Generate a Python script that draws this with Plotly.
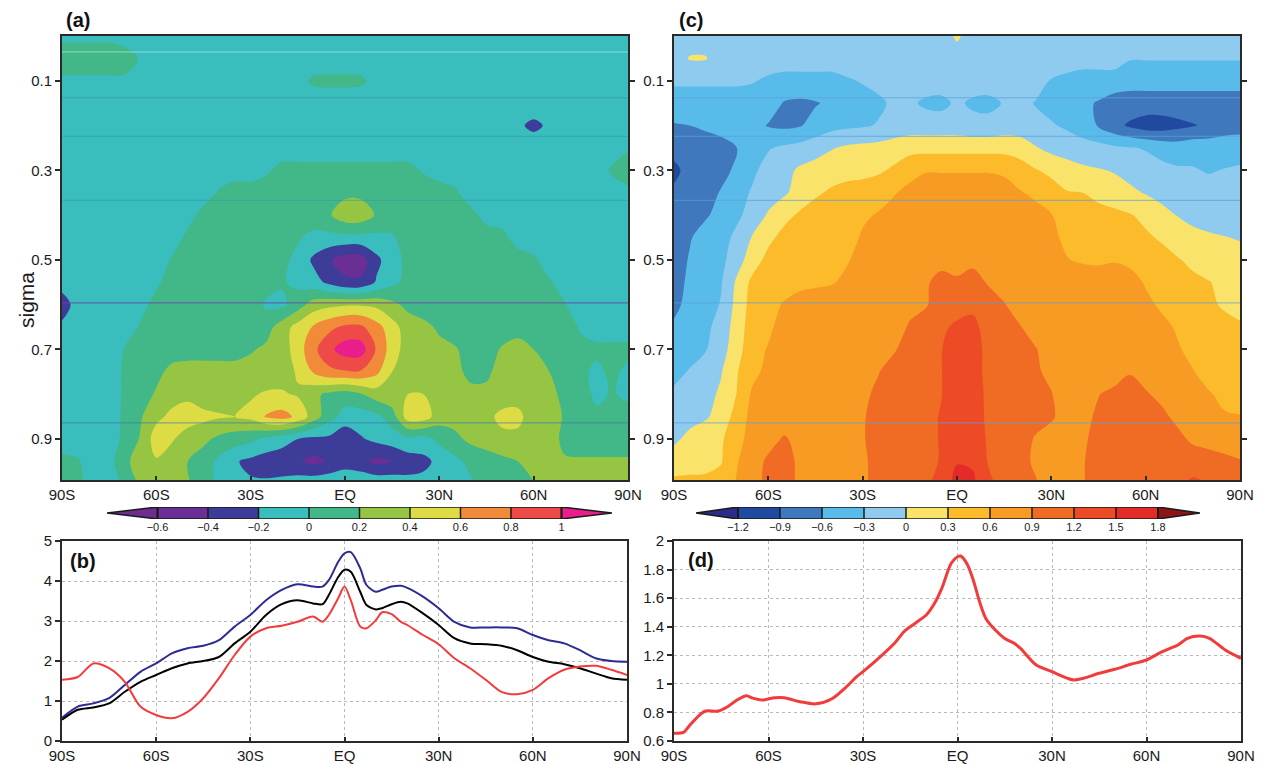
import plotly.graph_objects as go

W, H = 1262, 764

# ---------------- data ----------------
lat = [-90, -85, -80, -75, -70, -65, -60, -55, -50, -45, -40, -35, -30, -25, -20, -15, -10, -5, 0,
       5, 10, 15, 20, 25, 30, 35, 40, 45, 50, 55, 60, 65, 70, 75, 80, 85, 90]
sigma = [0.0, 0.05, 0.1, 0.15, 0.2, 0.25, 0.3, 0.35, 0.4, 0.45, 0.5, 0.55, 0.6, 0.65, 0.7,
         0.75, 0.8, 0.85, 0.9, 0.95, 0.995]

# panel (a) field, rows = sigma levels, cols = latitudes
a_field = [
    [-0.05]*4 + [-0.1]*33,
    [0.12, 0.12, 0.12, 0.12, 0.1, -0.02] + [-0.1]*31,
    [-0.04]*5 + [-0.1]*10 + [-0.06, 0.03, 0.04, 0.04, 0.03, -0.05] + [-0.1]*16,
    [-0.1]*37,
    [-0.1]*29 + [-0.17, -0.24, -0.17] + [-0.1]*5,
    [-0.1]*36 + [-0.02],
    [-0.1]*13 + [-0.03] + [0.06]*9 + [-0.02] + [-0.1]*11 + [0.03, 0.12],
    [-0.1]*10 + [0.02] + [0.1]*7 + [0.15, 0.15] + [0.1]*5 + [0.03] + [-0.1]*10 + [-0.05],
    [-0.1]*8 + [-0.08, 0.07] + [0.1]*7 + [0.18, 0.32, 0.32, 0.18] + [0.1]*5 + [0.06, -0.08] + [-0.1]*9,
    [-0.1]*8 + [0.05] + [0.1]*6 + [0.02, -0.05, -0.06, -0.06, -0.06, -0.05, -0.02, 0.08] + [0.1]*5 + [0.06] + [-0.1]*8,
    [-0.1]*7 + [0.02] + [0.1]*6 + [0.05, -0.05, -0.24, -0.38, -0.5, -0.5, -0.25, -0.08, 0.05] + [0.1]*7 + [0.03] + [-0.1]*6,
    [-0.1]*6 + [-0.04] + [0.1]*6 + [0.08, 0.02, -0.05, -0.12, -0.25, -0.36, -0.36, -0.18, -0.05, 0.06] + [0.1]*8 + [0.02] + [-0.1]*5,
    [-0.32] + [-0.1]*4 + [-0.06, 0.07] + [0.1]*5 + [0.1, -0.03, -0.04, 0.1, 0.3, 0.35, 0.38, 0.38, 0.35, 0.25, 0.15] + [0.1]*9 + [0.01] + [-0.1]*4,
    [-0.15] + [-0.1]*4 + [0.02] + [0.1]*7 + [0.12, 0.3, 0.48, 0.62, 0.75, 0.84, 0.84, 0.68, 0.48, 0.3, 0.25, 0.17] + [0.1]*7 + [0.08, -0.02] + [-0.1]*3,
    [-0.1]*4 + [0.01] + [0.12]*7 + [0.18, 0.24, 0.3, 0.5, 0.75, 0.95, 1.1, 1.1, 0.78, 0.5, 0.3, 0.28, 0.25, 0.22, 0.12, 0.12, 0.22, 0.3, 0.2, 0.12, 0.1] + [0.05]*4,
    [-0.1]*4 + [0.03, 0.08, 0.15, 0.25, 0.28, 0.28, 0.28, 0.28, 0.28, 0.3, 0.32, 0.42, 0.62, 0.75, 0.78, 0.78, 0.65, 0.4, 0.3, 0.3, 0.28, 0.25, 0.15, 0.16, 0.28, 0.3, 0.28, 0.2, 0.1, 0.05, -0.05, 0.05, -0.05],
    [-0.1]*4 + [0.03, 0.12, 0.22, 0.32, 0.35, 0.3, 0.3, 0.32, 0.38, 0.42, 0.42, 0.38, 0.25, 0.15, 0.1, 0.18, 0.3, 0.35, 0.4, 0.4, 0.35, 0.3, 0.25, 0.25, 0.3, 0.32, 0.3, 0.25, 0.15, 0.1, -0.05, 0.02, -0.05],
    [-0.1]*4 + [0.04, 0.18, 0.35, 0.45, 0.5, 0.45, 0.42, 0.4, 0.45, 0.62, 0.68, 0.55, 0.3, 0.08, -0.08, -0.1, -0.05, 0.1, 0.5, 0.5, 0.3, 0.28, 0.3, 0.35, 0.45, 0.45, 0.3, 0.28, 0.18, 0.12, 0.05, 0.1, 0.1],
    [-0.1]*4 + [0.05, 0.22, 0.5, 0.42, 0.3, 0.25, 0.15, 0.1, 0.05, -0.05, -0.12, -0.2, -0.25, -0.25, -0.35, -0.22, -0.15, -0.1, -0.05, -0.08, 0.05, 0.15, 0.25, 0.3, 0.35, 0.35, 0.3, 0.28, 0.15, 0.12, 0.12, 0.12, 0.12],
    [0.05, 0.02, -0.1, -0.08, 0.15, 0.3, 0.38, 0.3, 0.2, 0.1, -0.05, -0.18, -0.25, -0.3, -0.32, -0.38, -0.45, -0.38, -0.3, -0.35, -0.45, -0.4, -0.3, -0.25, -0.15, -0.05, 0.05, 0.1, 0.15, 0.2, 0.25, 0.22, 0.22, 0.22, 0.22, 0.22, 0.22],
    [0.05, 0.03, -0.05, -0.1, 0.05, 0.25, 0.3, 0.28, 0.22, 0.08, -0.05, -0.12, -0.18, -0.18, -0.16, -0.12, -0.1, -0.08, -0.05, -0.05, -0.08, -0.1, -0.15, -0.15, -0.12, -0.06, -0.02, 0.05, 0.1, 0.15, 0.2, 0.25, 0.25, 0.25, 0.25, 0.25, 0.25],
]

# panel (c) field
c_field = [
    [-0.15]*18 + [0.05] + [-0.15]*18,
    [-0.15, 0.02, 0.02] + [-0.15]*26 + [-0.28]*8,
    [-0.25]*5 + [-0.28, -0.35, -0.4, -0.4, -0.4, -0.4, -0.33, -0.28, -0.22] + [-0.15]*10 + [-0.32, -0.38, -0.45, -0.45, -0.45] + [-0.5]*8,
    [-0.45]*7 + [-0.62, -0.65, -0.62, -0.55, -0.45, -0.4, -0.35, -0.25, -0.25, -0.35, -0.38, -0.25, -0.35, -0.38, -0.28, -0.2, -0.32, -0.4, -0.45, -0.55, -0.62] + [-0.72]*9,
    [-0.62, -0.6, -0.55, -0.5, -0.5, -0.5, -0.62, -0.66, -0.62, -0.5, -0.4, -0.36, -0.33, -0.28, -0.2, -0.15, -0.15, -0.15, -0.15, -0.2, -0.2, -0.15, -0.15, -0.2, -0.27, -0.35, -0.5, -0.62, -0.8, -0.95, -1.05, -1.05, -0.98, -0.92, -0.85, -0.75, -0.7],
    [-0.8, -0.78, -0.75, -0.7, -0.6, -0.48, -0.32, -0.25, -0.2, -0.12, -0.02, 0.05, 0.08, 0.1, 0.15, 0.2, 0.2, 0.2, 0.2, 0.2, 0.2, 0.2, 0.15, 0.02, -0.08, -0.12, -0.15, -0.2, -0.25, -0.28, -0.32, -0.4, -0.45, -0.4, -0.42, -0.42, -0.45],
    [-0.97, -0.8, -0.72, -0.68, -0.55, -0.35, -0.2, -0.1, 0.05, 0.12, 0.15, 0.2, 0.2, 0.25, 0.35, 0.5, 0.58, 0.58, 0.58, 0.58, 0.58, 0.55, 0.45, 0.32, 0.22, 0.12, 0.05, 0.02, -0.02, -0.1, -0.18, -0.22, -0.26, -0.28, -0.32, -0.29, -0.25],
    [-0.85, -0.78, -0.7, -0.58, -0.4, -0.27, -0.15, -0.04, 0.1, 0.25, 0.35, 0.4, 0.45, 0.5, 0.58, 0.68, 0.75, 0.75, 0.75, 0.75, 0.75, 0.72, 0.62, 0.55, 0.45, 0.32, 0.3, 0.2, 0.12, 0.06, -0.02, -0.1, -0.15, -0.18, -0.2, -0.2, -0.22],
    [-0.8, -0.75, -0.63, -0.52, -0.34, -0.22, 0.04, 0.2, 0.35, 0.45, 0.5, 0.52, 0.56, 0.62, 0.7, 0.8, 0.8, 0.8, 0.8, 0.8, 0.8, 0.8, 0.72, 0.68, 0.61, 0.5, 0.45, 0.42, 0.38, 0.32, 0.22, 0.1, -0.01, -0.08, -0.12, -0.15, -0.18],
    [-0.75, -0.62, -0.5, -0.38, -0.25, 0.03, 0.22, 0.4, 0.5, 0.5, 0.5, 0.5, 0.63, 0.75, 0.8, 0.8, 0.8, 0.8, 0.8, 0.8, 0.8, 0.8, 0.8, 0.75, 0.65, 0.55, 0.5, 0.48, 0.45, 0.42, 0.35, 0.26, 0.18, 0.08, 0.04, 0.01, -0.02],
    [-0.72, -0.58, -0.48, -0.38, -0.12, 0.15, 0.4, 0.5, 0.5, 0.5, 0.52, 0.58, 0.68, 0.75, 0.8, 0.8, 0.8, 0.85, 0.85, 0.85, 0.85, 0.85, 0.8, 0.78, 0.72, 0.61, 0.57, 0.55, 0.58, 0.55, 0.5, 0.42, 0.32, 0.25, 0.18, 0.12, 0.1],
    [-0.7, -0.55, -0.45, -0.32, 0.05, 0.38, 0.5, 0.5, 0.5, 0.55, 0.58, 0.65, 0.75, 0.75, 0.75, 0.82, 0.88, 0.95, 0.92, 0.98, 0.88, 0.82, 0.8, 0.75, 0.75, 0.75, 0.75, 0.75, 0.75, 0.68, 0.58, 0.52, 0.45, 0.35, 0.31, 0.25, 0.22],
    [-0.68, -0.5, -0.42, -0.28, 0.1, 0.42, 0.52, 0.62, 0.75, 0.75, 0.75, 0.75, 0.75, 0.75, 0.8, 0.85, 0.88, 1.0, 1.08, 1.12, 1.0, 0.91, 0.82, 0.75, 0.75, 0.75, 0.75, 0.75, 0.75, 0.72, 0.65, 0.57, 0.5, 0.42, 0.33, 0.28, 0.25],
    [-0.55, -0.45, -0.36, -0.2, 0.15, 0.45, 0.55, 0.7, 0.75, 0.75, 0.75, 0.75, 0.75, 0.78, 0.82, 0.92, 1.0, 1.15, 1.25, 1.3, 1.05, 0.98, 0.91, 0.82, 0.75, 0.75, 0.75, 0.75, 0.75, 0.75, 0.72, 0.65, 0.58, 0.5, 0.42, 0.35, 0.32],
    [-0.45, -0.4, -0.32, -0.12, 0.18, 0.5, 0.62, 0.75, 0.75, 0.75, 0.75, 0.75, 0.75, 0.82, 0.88, 1.0, 1.08, 1.19, 1.35, 1.35, 1.1, 1.0, 0.95, 0.91, 0.82, 0.75, 0.75, 0.75, 0.75, 0.75, 0.75, 0.7, 0.62, 0.55, 0.45, 0.38, 0.35],
    [-0.38, -0.28, -0.15, -0.02, 0.28, 0.52, 0.68, 0.75, 0.75, 0.75, 0.75, 0.75, 0.75, 0.89, 1.0, 1.05, 1.1, 1.19, 1.38, 1.35, 1.1, 1.02, 0.98, 0.93, 0.85, 0.75, 0.75, 0.75, 0.75, 0.88, 0.82, 0.78, 0.7, 0.61, 0.52, 0.45, 0.42],
    [-0.25, -0.15, -0.1, 0.05, 0.31, 0.65, 0.75, 0.75, 0.75, 0.75, 0.75, 0.75, 0.85, 0.95, 1.05, 1.08, 1.1, 1.19, 1.38, 1.38, 1.12, 1.05, 1.0, 0.98, 0.91, 0.78, 0.8, 0.89, 0.98, 1.02, 0.92, 0.85, 0.78, 0.72, 0.62, 0.55, 0.5],
    [-0.15, -0.1, -0.04, 0.12, 0.42, 0.7, 0.75, 0.75, 0.75, 0.75, 0.75, 0.75, 0.88, 0.98, 1.08, 1.1, 1.12, 1.22, 1.4, 1.4, 1.12, 1.05, 1.0, 0.98, 0.93, 0.8, 0.82, 0.95, 1.02, 1.05, 1.0, 0.95, 0.85, 0.8, 0.72, 0.62, 0.61],
    [-0.06, 0.08, 0.2, 0.26, 0.5, 0.72, 0.8, 0.93, 0.82, 0.75, 0.75, 0.75, 0.88, 1.0, 1.08, 1.1, 1.12, 1.22, 1.42, 1.42, 1.15, 1.05, 1.0, 0.88, 0.8, 0.75, 0.85, 1.0, 1.05, 1.05, 1.05, 1.0, 0.96, 0.86, 0.8, 0.75, 0.72],
    [0.15, 0.2, 0.22, 0.28, 0.58, 0.78, 0.95, 1.0, 0.85, 0.75, 0.75, 0.75, 0.85, 1.0, 1.08, 1.1, 1.12, 1.22, 1.48, 1.46, 1.18, 1.05, 1.0, 0.85, 0.75, 0.72, 0.88, 1.02, 1.08, 1.08, 1.08, 1.05, 1.02, 1.02, 1.02, 0.98, 0.92],
    [0.35, 0.35, 0.35, 0.4, 0.62, 0.78, 0.98, 1.0, 0.85, 0.75, 0.75, 0.75, 0.85, 1.0, 1.08, 1.1, 1.15, 1.3, 1.6, 1.55, 1.25, 1.1, 1.0, 0.92, 0.78, 0.75, 0.88, 1.02, 1.1, 1.1, 1.1, 1.1, 1.12, 1.25, 1.18, 1.1, 1.05],
]

for name, fld in (("a", a_field), ("c", c_field)):
    assert len(fld) == len(sigma), (name, len(fld))
    for i, row in enumerate(fld):
        assert len(row) == len(lat), (name, i, len(row))

# panel (b) lines
b_lat = [-90, -85, -80, -75, -70, -65, -60, -55, -50, -45, -40, -35, -30, -25, -20, -15, -10, -7, -5, -2,
         0, 2, 5, 7, 10, 12, 15, 18, 20, 25, 30, 35, 40, 45, 50, 55, 60, 65, 70, 75, 80, 85, 90]
b_blue = [0.58, 0.86, 0.94, 1.07, 1.4, 1.73, 1.94, 2.19, 2.32, 2.38, 2.52, 2.86, 3.15, 3.52, 3.78,
          3.92, 3.86, 3.86, 4.02, 4.48, 4.69, 4.72, 4.32, 3.9, 3.73, 3.78, 3.86, 3.88, 3.83, 3.61,
          3.32, 2.98, 2.84, 2.84, 2.84, 2.82, 2.65, 2.52, 2.44, 2.27, 2.07, 2.0, 1.98]
b_black = [0.53, 0.78, 0.84, 0.94, 1.23, 1.48, 1.65, 1.82, 1.94, 2.0, 2.1, 2.44, 2.73, 3.15, 3.42,
           3.52, 3.44, 3.42, 3.65, 4.1, 4.28, 4.23, 3.73, 3.4, 3.29, 3.32, 3.42, 3.48, 3.44, 3.19,
           2.9, 2.57, 2.44, 2.42, 2.38, 2.27, 2.1, 1.98, 1.92, 1.82, 1.69, 1.57, 1.53]
b_red = [1.53, 1.6, 1.94, 1.82, 1.48, 0.86, 0.65, 0.57, 0.73, 1.07, 1.57, 2.15, 2.61, 2.82, 2.88,
         2.98, 3.11, 2.98, 3.15, 3.57, 3.86, 3.52, 2.86, 2.82, 3.02, 3.22, 3.17, 2.98, 2.9, 2.65,
         2.42, 2.07, 1.82, 1.53, 1.23, 1.17, 1.28, 1.57, 1.78, 1.86, 1.88, 1.78, 1.65]

# panel (d) line
d_lat = [-90, -87, -85, -82, -80, -76, -73, -70, -67, -65, -62, -58, -55, -50, -45, -40, -35, -32, -30,
         -25, -20, -17, -15, -12, -10, -7, -5, -2, 0, 1, 3, 5, 7, 9, 12, 15, 18, 20, 25, 30, 35, 37,
         40, 45, 50, 55, 60, 65, 68, 70, 73, 77, 80, 85, 90]
d_red = [0.654, 0.66, 0.71, 0.78, 0.81, 0.81, 0.84, 0.887, 0.917, 0.9, 0.887, 0.903, 0.903, 0.875,
         0.86, 0.894, 0.985, 1.05, 1.085, 1.18, 1.284, 1.365, 1.4, 1.447, 1.48, 1.575, 1.668, 1.844,
         1.89, 1.895, 1.84, 1.727, 1.575, 1.458, 1.377, 1.318, 1.284, 1.248, 1.132, 1.085, 1.038,
         1.027, 1.039, 1.074, 1.102, 1.137, 1.167, 1.225, 1.253, 1.272, 1.319, 1.335, 1.319, 1.237,
         1.179]

lat_ticks = [-90, -60, -30, 0, 30, 60, 90]
lat_labels = ["90S", "60S", "30S", "EQ", "30N", "60N", "90N"]
sigma_ticks = [0.1, 0.3, 0.5, 0.7, 0.9]

levels_a = [-0.6, -0.4, -0.2, 0, 0.2, 0.4, 0.6, 0.8, 1.0]
labels_a = ["\u22120.6", "\u22120.4", "\u22120.2", "0", "0.2", "0.4", "0.6", "0.8", "1"]
levels_c = [-1.2, -0.9, -0.6, -0.3, 0, 0.3, 0.6, 0.9, 1.2, 1.5, 1.8]
labels_c = ["\u22121.2", "\u22120.9", "\u22120.6", "\u22120.3", "0", "0.3", "0.6", "0.9", "1.2", "1.5", "1.8"]

# horizontal level-boundary streaks visible in the contour panels
streaks_a = [0.0356, 0.138, 0.224, 0.367, 0.596, 0.864]
streaks_c = [0.138, 0.224, 0.367, 0.596, 0.864]

# ---------------- styles ----------------
colors_a = ["#6e2c90", "#6a2f95", "#3d3c98", "#3abdbd", "#42b888", "#95c543",
            "#dedc44", "#f28b39", "#ee4a48", "#e91e8c"]
colors_c = ["#2b2b8e", "#1f4a9f", "#3f78bc", "#59bbea", "#8fcbef", "#fae36b",
            "#fbbb2b", "#f89b24", "#f06c25", "#ec4b25", "#e32b27", "#8c1515"]
streak_colors_a = ["rgba(235,250,250,0.5)", "rgba(50,140,170,0.5)", "rgba(50,140,170,0.45)",
                   "rgba(50,140,170,0.45)", "rgba(110,70,170,0.9)", "rgba(60,120,175,0.7)"]
streak_color_c = "rgba(90,160,215,0.75)"

FONT = "Liberation Sans"
FRAME = "#2a2a2a"


def px(x):
    return x / W


def py(y):
    return 1 - y / H


fig = go.Figure()

# contour panels
fig.add_trace(go.Contour(
    x=lat, y=sigma, z=a_field, xaxis="x", yaxis="y", showscale=False,
    autocontour=False,
    contours=dict(start=levels_a[0], end=levels_a[-1], size=0.2, coloring="fill", showlines=False),
    colorscale=[[k / (len(colors_a) - 1), c] for k, c in enumerate(colors_a)],
    line=dict(width=0, smoothing=1.0), hoverinfo="skip"))
fig.add_trace(go.Contour(
    x=lat, y=sigma, z=c_field, xaxis="x2", yaxis="y2", showscale=False,
    autocontour=False,
    contours=dict(start=levels_c[0], end=levels_c[-1], size=0.3, coloring="fill", showlines=False),
    colorscale=[[k / (len(colors_c) - 1), c] for k, c in enumerate(colors_c)],
    line=dict(width=0, smoothing=1.0), hoverinfo="skip"))

# line panels
fig.add_trace(go.Scatter(x=b_lat, y=b_blue, mode="lines", xaxis="x3", yaxis="y3",
                         line=dict(color="#2c2c92", width=2, shape="spline", smoothing=0.8)))
fig.add_trace(go.Scatter(x=b_lat, y=b_black, mode="lines", xaxis="x3", yaxis="y3",
                         line=dict(color="#000000", width=2, shape="spline", smoothing=0.8)))
fig.add_trace(go.Scatter(x=b_lat, y=b_red, mode="lines", xaxis="x3", yaxis="y3",
                         line=dict(color="#f23c3c", width=2, shape="spline", smoothing=0.8)))
fig.add_trace(go.Scatter(x=d_lat, y=d_red, mode="lines", xaxis="x4", yaxis="y4",
                         line=dict(color="#f23c3c", width=3, shape="spline", smoothing=0.8)))

# colorbars as heatmaps on their own axes
fig.add_trace(go.Heatmap(x=levels_a, y=[0, 1], z=[list(range(len(levels_a) - 1))],
                         xaxis="x5", yaxis="y5", showscale=False, zmin=0, zmax=len(levels_a) - 2,
                         colorscale=[[k / (len(levels_a) - 2), c] for k, c in enumerate(colors_a[1:-1])],
                         hoverinfo="skip"))
fig.add_trace(go.Heatmap(x=levels_c, y=[0, 1], z=[list(range(len(levels_c) - 1))],
                         xaxis="x6", yaxis="y6", showscale=False, zmin=0, zmax=len(levels_c) - 2,
                         colorscale=[[k / (len(levels_c) - 2), c] for k, c in enumerate(colors_c[1:-1])],
                         hoverinfo="skip"))

tickfont = dict(family=FONT, size=15, color="#1a1a1a")

lat_axis = dict(range=[-90, 90], tickvals=lat_ticks, ticktext=lat_labels, ticks="inside",
                ticklen=4, tickwidth=1.5, tickcolor=FRAME, showgrid=True, gridcolor="#b9b9b9",
                griddash="dot", gridwidth=1, showline=True, linewidth=2, linecolor=FRAME,
                mirror=True, zeroline=False, tickfont=tickfont, layer="above traces",
                automargin=False)
sig_axis = dict(range=[0.9915, 0.0], tickvals=sigma_ticks, ticks="outside", ticklen=5, tickwidth=1.5,
                tickcolor=FRAME, showgrid=True, gridcolor="#b9b9b9", griddash="dot", gridwidth=1,
                showline=True, linewidth=2, linecolor=FRAME, mirror="ticks", zeroline=False,
                tickfont=tickfont, layer="above traces", automargin=False)

top_y = [py(480), py(36)]
bot_y = [py(741), py(541)]

fig.update_layout(
    width=W, height=H, margin=dict(l=0, r=0, t=0, b=0, autoexpand=False),
    paper_bgcolor="white", plot_bgcolor="white", showlegend=False,
    xaxis=dict(lat_axis, domain=[px(62), px(628)], anchor="y"),
    yaxis=dict(sig_axis, domain=top_y, anchor="x"),
    xaxis2=dict(lat_axis, domain=[px(674), px(1240)], anchor="y2"),
    yaxis2=dict(sig_axis, domain=top_y, anchor="x2"),
    xaxis3=dict(lat_axis, domain=[px(62), px(627)], anchor="y3"),
    yaxis3=dict(range=[0, 5], tickvals=[0, 1, 2, 3, 4, 5], ticks="outside", ticklen=5, tickwidth=1.5,
                tickcolor=FRAME, showgrid=True, gridcolor="#b9b9b9", griddash="dot", gridwidth=1,
                showline=True, linewidth=2, linecolor=FRAME, mirror=True, zeroline=False,
                tickfont=tickfont, domain=bot_y, anchor="x3", automargin=False),
    xaxis4=dict(lat_axis, domain=[px(674), px(1241)], anchor="y4"),
    yaxis4=dict(range=[0.6, 2.0], tickvals=[0.6, 0.8, 1.0, 1.2, 1.4, 1.6, 1.8, 2.0], ticks="outside",
                ticklen=5, tickwidth=1.5, tickcolor=FRAME, showgrid=True, gridcolor="#b9b9b9",
                griddash="dot", gridwidth=1, showline=True, linewidth=2, linecolor=FRAME,
                mirror=True, zeroline=False, tickfont=tickfont, domain=bot_y, anchor="x4",
                automargin=False),
    xaxis5=dict(domain=[px(107), px(612)], anchor="y5", range=[levels_a[0] - 0.2, levels_a[-1] + 0.2],
                tickvals=levels_a, ticktext=labels_a, ticks="", showgrid=False, zeroline=False,
                showline=False, tickfont=dict(family=FONT, size=11, color="#1a1a1a"), automargin=False),
    yaxis5=dict(domain=[py(519), py(507)], anchor="x5", range=[0, 1], visible=False),
    xaxis6=dict(domain=[px(696), px(1200)], anchor="y6", range=[levels_c[0] - 0.3, levels_c[-1] + 0.3],
                tickvals=levels_c, ticktext=labels_c, ticks="", showgrid=False, zeroline=False,
                showline=False, tickfont=dict(family=FONT, size=11, color="#1a1a1a"), automargin=False),
    yaxis6=dict(domain=[py(519), py(507)], anchor="x6", range=[0, 1], visible=False),
)

shapes = []
# streaks
for lev, col in zip(streaks_a, streak_colors_a):
    shapes.append(dict(type="line", xref="x", yref="y", x0=-90, x1=90, y0=lev, y1=lev,
                       line=dict(color=col, width=1), layer="above"))
for lev in streaks_c:
    shapes.append(dict(type="line", xref="x2", yref="y2", x0=-90, x1=90, y0=lev, y1=lev,
                       line=dict(color=streak_color_c, width=1), layer="above"))

# colorbar triangles, separators and outline
for xr, yr, levs, cols, step in (("x5", "y5", levels_a, colors_a, 0.2), ("x6", "y6", levels_c, colors_c, 0.3)):
    lo, hi = levs[0], levs[-1]
    shapes.append(dict(type="path", xref=xr, yref=yr,
                       path=f"M {lo},0 L {lo - step},0.5 L {lo},1 Z",
                       fillcolor=cols[0], line=dict(color="#1a1a1a", width=1.5)))
    shapes.append(dict(type="path", xref=xr, yref=yr,
                       path=f"M {hi},0 L {hi + step},0.5 L {hi},1 Z",
                       fillcolor=cols[-1], line=dict(color="#1a1a1a", width=1.5)))
    for lv in levs:
        shapes.append(dict(type="line", xref=xr, yref=yr, x0=lv, x1=lv, y0=0, y1=1,
                           line=dict(color="#1a1a1a", width=1.5)))
    shapes.append(dict(type="rect", xref=xr, yref=yr, x0=lo, x1=hi, y0=0, y1=1,
                       line=dict(color="#1a1a1a", width=1.5)))
fig.update_layout(shapes=shapes)

ann_font = dict(family=FONT, size=20, color="#111111")
fig.update_layout(annotations=[
    dict(text="<b>(a)</b>", x=px(64), y=py(20), xref="paper", yref="paper", xanchor="left",
         yanchor="middle", showarrow=False, font=ann_font),
    dict(text="<b>(c)</b>", x=px(677), y=py(20), xref="paper", yref="paper", xanchor="left",
         yanchor="middle", showarrow=False, font=ann_font),
    dict(text="<b>(b)</b>", x=px(68), y=py(561), xref="paper", yref="paper", xanchor="left",
         yanchor="middle", showarrow=False, font=ann_font),
    dict(text="<b>(d)</b>", x=px(686), y=py(560), xref="paper", yref="paper", xanchor="left",
         yanchor="middle", showarrow=False, font=ann_font),
    dict(text="sigma", x=px(26), y=py(300), xref="paper", yref="paper", xanchor="center",
         yanchor="middle", showarrow=False, textangle=-90,
         font=dict(family=FONT, size=21, color="#1a1a1a")),
])

fig.write_html("out.html")
